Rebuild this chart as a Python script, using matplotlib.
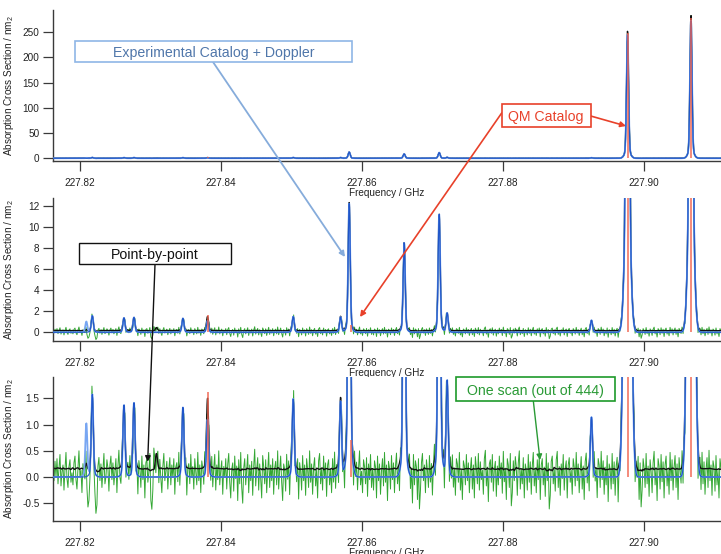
import numpy as np
import matplotlib
matplotlib.use("Agg")
import matplotlib.pyplot as plt
from matplotlib.patches import Rectangle, FancyArrowPatch

plt.rcParams.update({
    "font.family": ["Liberation Sans", "DejaVu Sans"],
    "axes.unicode_minus": False,
    "mathtext.fontset": "custom",
    "mathtext.rm": "Liberation Sans",
    "mathtext.it": "Liberation Sans:italic",
})

# ---------------- data ----------------
x_range = (227.81617, 227.91096)
x_ticks = [227.82, 227.84, 227.86, 227.88, 227.90]
x_ticklabels = ["227.82", "227.84", "227.86", "227.88", "227.90"]

# Experimental catalog lines (Doppler broadened -> blue)
exp_freq = [227.82090, 227.82175, 227.82624, 227.82766, 227.83461, 227.83810,
            227.85026, 227.85698, 227.85820, 227.86600, 227.87097, 227.87210,
            227.89258, 227.89770, 227.90670]
exp_int = [1.02, 1.58, 1.38, 1.42, 1.33, 1.10,
           1.50, 1.45, 12.26, 8.54, 11.24, 1.85,
           1.15, 245.0, 274.0]
# dark blue trace: same catalog without the weak 227.8209 line
exp2_int = [0.0, 1.58, 1.38, 1.42, 1.33, 1.10,
            1.50, 1.45, 12.26, 8.54, 11.24, 1.85,
            1.15, 245.0, 274.0]

# Point-by-point measurement (black), heights above its baseline
pbp_freq = [227.82090, 227.82175, 227.82624, 227.82766, 227.83083, 227.83461,
            227.83810, 227.85026, 227.85698, 227.85820, 227.86600, 227.87097,
            227.87210, 227.89258, 227.89770, 227.90670]
pbp_int = [0.15, 1.40, 1.20, 1.25, 0.28, 1.15,
           1.35, 1.30, 1.37, 12.20, 8.40, 11.10,
           1.65, 0.95, 252.0, 284.0]
pbp_baseline = 0.15

# QM catalog (red sticks)
qm_freq = [227.83810, 227.85840, 227.89770, 227.90670]
qm_int = [1.62, 0.70, 248.0, 278.0]

# One scan (green): baseline + residual noise (1/100 units)
scan_baseline = 0.05
scan_noise = [
    8, -12, 25, -5, 30, -18, 12, 38, -22, 5, 18, -30, 10, 42, -8, -25, 15, 28, -15, 3,
    -20, 22, 35, -10, -28, 12, 45, -5, 8, -35, 20, 2, -15, 30, -40, -69, -55, -20, 25, 38,
    10, -30, -45, -78, -60, 15, 32, -12, 20, -25, 8, 40, -18, -5, 28, 12, -32, 18, 35, -10,
    22, -20, 5, 30, -35, 15, 45, -8, -22, 10, 25, -15, 38, -28, 6, 20, -12, 33, -6, 14,
    -30, 8, 42, -18, 16, -40, 25, 10, -25, 35, -10, 18, -45, 22, 30, -15, 5, 40, -50, -67,
    -30, 48, 20, -22, 12, 35, -18, 28, -8, -35, 15, 40, -12, 6, 25, -28, 10, 32, -20, 18,
    -5, 30, -38, 14, 22, -15, 40, -25, 8, 18, -30, 35, -10, 26, -42, 12, 20, -18, 38, -6,
    15, -28, 30, 5, -20, 42, -12, 18, -35, 25, 10, -22, 36, -8, 14, -40, 28, 6, -16, 32,
    -25, 12, 38, -30, 18, -10, 45, -20, 8, 26, -38, 15, -5, 30, -28, 20, 40, -15, -45, 10,
    22, -32, 35, -8, 16, -50, 28, -18, 42, -25, -55, 12, 30, -20, 8, 38, -35, 18, -12, 25,
    -40, 15, 48, -22, 10, 32, -30, 20, -8, -45, 36, 14, -18, 28, -35, 6, 42, -25, 18, -12,
    30, -38, 12, 25, -20, 45, -28, 8, 35, -15, -50, 20, 10, -32, 38, -10, 24, -42, 16, 30,
    -22, 40, -35, 12, -18, 28, -48, 22, 6, -30, 36, -12, 18, -40, 30, 10, -25, 45, -15, 20,
    -38, 14, 32, -22, 8, -45, 26, 40, -18, 12, -30, 35, -8, 22, -42, 18, 28, -20, 10, -35,
    30, -15, 42, -28, 16, 8, -38, 24, -12, 36, -22, 10, -45, 30, 14, -25, 40, -10, 20, -32,
    18, -40, 35, -8, 22, -30, 12, 45, -20, 6, -35, 28, 15, -18, 32, -42, 20, -10, 38, -25,
    10, -30, 26, 14, -45, 35, -12, 20, -38, 8, 30, -22, 42, -15, 18, -50, 25, 12, -28, 36,
    -10, 22, -35, 16, 40, -20, 8, -42, 30, -15, 24, 12, -38, 45, -25, 18, -8, 32, -30, 10,
    -55, 38, -20, 26, 14, -48, 30, -66, -30, 22, 40, -12, 18, -35, 28, 8, -25, 36, -15, 20,
    -42, 12, 44, -28, 16, 30, -20, 10, -38, 34, -8, 24, -45, 18, 50, -22, 14, -32, 28, -10,
    36, -25, 12, -40, 30, 20, -15, 42, -30, 8, -48, 26, 16, -20, 38, -12, 22, -35, 10, 32,
    -28, 18, -45, 34, 12, -18, 40, -30, 24, -10, 8, -38, 30, 46, -22, 14, -52, 20, 28, -15,
    38, -32, 10, 25, -42, 16, -20, 35, -8, 22, -36, 44, -14, 12, -48, 30, 18, -25, 40, -60,
    -35, 26, -12, 34, 14, -40, 22, 45, -28, 10, -18, 32, -45, 20, 8, -30, 38, -15, 24, -38,
    16, 42, -22, 12, -35, 28, -10, 36, -48, 18, 30, -20, 14, -42, 40, -12, 22, -66, -40, 25,
    35, -18, 10, -32, 28, 44, -25, 15, -40, 20, -8, 38, -30, 12, 26, -45, 18, 32, -15, 8,
    -38, 30, 14, -22, 42, -12, 20, -35, 8, 34, -28, 16, -48, 24, 40, -18, 10, -42, 28, -5,
    22, -30, 38, -15, 12, -45, 30, 18, -25, 44, -10, 26, -38, 14, -20, 36, -52, 20, 10, -28,
    40, -18, 24, -40, 16, 32, -55, 12, -22, 38, -12, 28, -45, 20, 8, -35, 42, -20, 14, -30,
    26, -15, 46, -38, 18, -8, 34, -48, 22, -62, -30, 30, 12, -25, 40, -18, 16, -42, 28, 6,
    -35, 22, 44, -20, 12, -50, 30, 16, -28, 38, -14, 24, -45, 18, 35, -22, 10, -38, 42, -12,
    28, -30, 14, 36, -25, 20, -48, 32, 8, -18, 40, -35, 16, -60, 26, -40, 45, -15, 22, -28,
    12, 38, -45, 20, -10, 34, -55, 16, 28, -30, 42, -18, 24, -38, 10, 32, -25, 46, -12, 18,
    -40, 26, 14, -32, 36, -20, 8, -45, 30, 12,
]

# panel definitions: y-limits, ticks, labels
panel_ylims = [(-5.4, 294.0), (-0.83, 12.79), (-0.84, 1.91)]
panel_yticks = [[0, 50, 100, 150, 200, 250], [0, 2, 4, 6, 8, 10, 12], [-0.5, 0.0, 0.5, 1.0, 1.5]]
panel_yticklabels = [["0", "50", "100", "150", "200", "250"],
                     ["0", "2", "4", "6", "8", "10", "12"],
                     ["-0.5", "0.0", "0.5", "1.0", "1.5"]]

# ---------------- line shape ----------------
S1, S2, WB = 0.00014, 0.00037, 0.065


def spectrum(x, freqs, ints):
    y = np.zeros_like(x)
    for f0, a in zip(freqs, ints):
        d = x - f0
        y += a * ((1 - WB) * np.exp(-d**2 / (2 * S1**2)) + WB * np.exp(-d**2 / (2 * S2**2)))
    return y


noise = np.array(scan_noise, dtype=float) / 100.0
N = len(noise)
xg = np.linspace(x_range[0], x_range[1], N)
REP = 4
xf = np.linspace(x_range[0], x_range[1], N * REP)

blue_light = spectrum(xf, exp_freq, exp_int)
blue_dark = spectrum(xf, exp_freq, exp2_int)
wig = np.convolve(noise, np.ones(7) / 7, mode="same") * 0.25
wig_f = np.convolve(np.repeat(wig, REP), np.ones(REP) / REP, mode="same")
black = pbp_baseline + spectrum(xf, pbp_freq, pbp_int) + wig_f
green = scan_baseline + spectrum(xg, pbp_freq, pbp_int) + noise

# ---------------- figure ----------------
W, H = 721, 554
fig = plt.figure(figsize=(W / 100, H / 100), dpi=100)
panel_px = [(10, 161), (198, 341), (377, 521)]
LEFT, RIGHT = 53, 721
spine_c = "#3a3a3a"

for (top, bot), ylim, yt, ytl in zip(panel_px, panel_ylims, panel_yticks, panel_yticklabels):
    ax = fig.add_axes([LEFT / W, 1 - bot / H, (RIGHT - LEFT) / W, (bot - top) / H])
    ax.plot(xg, green, color="#1e9e1e", lw=0.7, alpha=0.9, zorder=1)
    ax.plot(xf, black, color="#111111", lw=1.0, zorder=2)
    ax.plot(xf, blue_light, color="#78a6f2", lw=1.3, zorder=3)
    ax.plot(xf, blue_dark, color="#1f55c8", lw=0.8, zorder=4)
    ax.vlines(qm_freq, 0, qm_int, color="#f0644f", lw=1.4, alpha=0.75, zorder=5)
    ax.set_xlim(*x_range)
    ax.set_ylim(*ylim)
    ax.set_xticks(x_ticks)
    ax.set_xticklabels(x_ticklabels)
    ax.set_yticks(yt)
    ax.set_yticklabels(ytl)
    for s in ("top", "right"):
        ax.spines[s].set_visible(False)
    for s in ("left", "bottom"):
        ax.spines[s].set_color(spine_c)
        ax.spines[s].set_linewidth(1.0)
    ax.tick_params(axis="both", direction="out", length=7.5, width=0.9,
                   color=spine_c, labelsize=7.2, labelcolor="#222222")
    ax.tick_params(axis="x", pad=4.5)
    ax.tick_params(axis="y", pad=2.2)
    ax.set_ylabel("Absorption Cross Section / nm$_2$", fontsize=7.2, color="#222222")
    ax.yaxis.set_label_coords(-(LEFT - 16) / (RIGHT - LEFT), 0.5)
    ax.set_xlabel("Frequency / GHz", fontsize=7.2, color="#222222")
    ax.xaxis.set_label_coords(0.5, -27 / (bot - top))
    ax.xaxis.label.set_va("top")


def fx(px):
    return px / W


def fy(py):
    return 1 - py / H


def box(x0, y0, x1, y1, text, edge, tcolor, lw=1.2):
    r = Rectangle((fx(x0), fy(y1)), fx(x1) - fx(x0), fy(y0) - fy(y1),
                  transform=fig.transFigure, facecolor="white", edgecolor=edge,
                  lw=lw, zorder=20)
    fig.add_artist(r)
    fig.text(fx((x0 + x1) / 2), fy((y0 + y1) / 2), text, color=tcolor,
             fontsize=10.2, ha="center", va="center_baseline", zorder=21)


def arrow(p0, p1, color, lw=1.2):
    a = FancyArrowPatch((fx(p0[0]), fy(p0[1])), (fx(p1[0]), fy(p1[1])),
                        transform=fig.transFigure, arrowstyle="-|>",
                        mutation_scale=8, color=color, lw=lw, zorder=19,
                        shrinkA=0, shrinkB=0)
    fig.add_artist(a)


box(75, 41, 352, 62, "Experimental Catalog + Doppler", "#8fb6e6", "#4f76aa")
arrow((213, 62), (345, 257), "#86acdb", 1.3)

box(501.7, 104.3, 590.7, 126.7, "QM Catalog", "#e8412a", "#e8412a")
arrow((590.7, 116), (626, 126), "#e8412a", 1.2)
arrow((501.7, 113), (360, 317), "#e8412a", 1.2)

box(78.7, 243.3, 231, 264.3, "Point-by-point", "#111111", "#111111", lw=1.0)
arrow((155, 264.3), (147.7, 461.7), "#111111", 1.0)

box(455.7, 377.3, 615.3, 400.7, "One scan (out of 444)", "#1e9a2a", "#2a9a35")
arrow((533.3, 400.7), (540, 460), "#2a9a35", 1.0)

fig.savefig("out.png", dpi=100)
